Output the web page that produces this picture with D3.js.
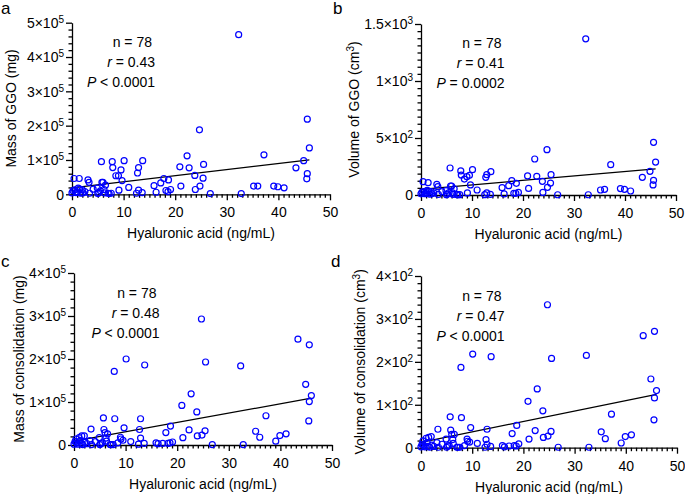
<!DOCTYPE html>
<html><head><meta charset="utf-8">
<script src="https://cdn.jsdelivr.net/npm/d3@7"></script>
<style>
html,body{margin:0;padding:0;background:#fff;}
svg{display:block;}
text{font-family:"Liberation Sans",Arial,Helvetica,sans-serif;fill:#000;}
</style></head><body>
<svg id="chart" width="685" height="494"></svg>
<script>
// ---------------- DATA ----------------
const hyaluronicAcid = [0.0,0.2,0.4,0.5,0.8,1.0,1.2,1.4,1.5,1.7,2.0,2.1,2.5,3.1,3.3,3.4,4.1,4.9,5.0,5.2,5.5,5.7,5.8,6.0,6.2,6.3,6.5,7.0,7.2,7.6,7.8,7.9,8.5,9.0,9.1,9.5,9.7,10.1,11.0,12.5,12.7,12.9,12.9,13.6,13.7,15.9,16.3,17.2,17.8,18.2,18.6,18.7,19.1,20.9,21.1,22.3,22.7,23.8,23.9,24.7,24.8,25.4,25.5,26.8,32.3,32.8,35.2,36.0,37.2,39.1,39.9,41.1,43.4,44.9,45.5,45.6,45.6,46.0];
const massGGO = [4000,10000,46000,13000,5000,7000,18000,46000,15000,3000,13000,4000,8000,42000,35000,3000,15000,18000,2000,5000,10000,95000,35000,35000,14000,4000,27000,3000,2000,3000,95000,78000,54000,54000,12000,71000,40000,98000,20000,3000,62000,78000,12000,5000,98000,25000,6000,33000,46000,11000,8000,42000,14000,80000,24000,112000,77000,55000,14000,188000,24000,47000,87000,2000,465000,2000,24000,24000,115000,24000,22000,19000,77000,98000,45000,60000,219000,135000];
const volumeGGO = [10,25,117,30,12,20,40,108,35,8,30,10,18,94,73,5,30,38,3,10,22,237,79,79,18,5,55,4,3,3,211,175,140,161,18,173,88,222,44,3,155,178,18,5,205,64,9,82,126,15,15,102,23,167,58,316,164,120,23,398,67,105,178,2,1370,2,44,50,266,56,50,35,155,208,88,129,462,289];
const massConsolidation = [2000,8000,14000,5000,2000,17000,10000,3000,21000,1000,21000,6000,3000,10000,37000,1000,8000,17000,1000,3000,5000,63000,36000,29000,16000,9000,26000,1000,1000,1000,171000,61000,5000,18000,14000,11000,40000,200000,8000,2000,36000,61000,16000,4000,186000,5000,3000,4000,29000,4000,5000,44000,7000,92000,17000,35000,119000,77000,21000,293000,23000,33000,193000,1000,184000,1000,32000,18000,68000,9000,22000,26000,246000,141000,56000,101000,233000,115000];
const volumeConsolidation = [2,8,16,5,2,22,12,3,24,1,26,6,3,12,43,1,8,20,1,4,5,72,41,31,19,10,31,1,1,1,187,70,5,20,15,13,47,218,10,1,19,43,8,3,212,5,2,4,33,5,4,52,9,108,20,40,137,86,24,333,27,38,208,1,215,1,37,21,78,11,26,30,261,160,65,116,271,133];

const xTicks = [0,10,20,30,40,50];
const yTicksA = [0,100000,200000,300000,400000,500000];
const yTicksB = [0,500,1000,1500];
const yTicksC = [0,100000,200000,300000,400000];
const yTicksD = [0,100,200,300,400];

const panelLetters = ["a","b","c","d"];
const yTitles = ["Mass of GGO (mg)","Volume of GGO (cm|3|)","Mass of consolidation (mg)","Volume of consolidation (cm|3|)"];
const xTitle = "Hyaluronic acid (ng/mL)";
const nValues = [78,78,78,78];
const rValues = ["0.43","0.41","0.48","0.47"];
const pTexts = ["< 0.0001","= 0.0002","< 0.0001","< 0.0001"];
const fitIntercepts = [18600, 50, 9000, 12.5];
const fitSlopes = [1780, 3.9, 2170, 2.43];

// ---------------- LAYOUT ----------------
const layout = [
  {left:72, right:330, top:22.7, bottom:194.3, letterX:1, letterY:14, titleX:16, annRight:155, annY:47, yMinor:20000},
  {left:421, right:676, top:24, bottom:195, letterX:333, letterY:14, titleX:359, annRight:504.5, annY:48, yMinor:62.5},
  {left:74, right:332, top:273, bottom:445, letterX:1, letterY:267, titleX:24, annRight:159.5, annY:298, yMinor:20000},
  {left:421, right:677, top:276, bottom:447.7, letterX:331, letterY:267, titleX:365, annRight:504.5, annY:301, yMinor:100/6}
];
const seriesList = [massGGO, volumeGGO, massConsolidation, volumeConsolidation];
const yTickList = [yTicksA, yTicksB, yTicksC, yTicksD];

const svg = d3.select("#chart");
const BLUE = "#0000ff";
const AX_W = 1.3;

function addRich(textSel, str, supDy) {
  const parts = str.split("|");
  parts.forEach((t, k) => {
    if (!t) return;
    if (k % 2 === 1) {
      textSel.append("tspan").attr("dy", -supDy).attr("font-size", 10).text(t);
    } else {
      const ts = textSel.append("tspan").text(t);
      if (k > 0) ts.attr("dy", supDy);
    }
  });
}

function fmtTick(v) {
  if (v === 0) return "0";
  const e = Math.floor(Math.log10(v) + 1e-9);
  const m = +(v / Math.pow(10, e)).toFixed(2);
  return m + "\u00d710|" + e + "|";
}

layout.forEach((L, i) => {
  const vals = seriesList[i];
  const yTicks = yTickList[i];
  const g = svg.append("g");
  const x = d3.scaleLinear().domain([xTicks[0], xTicks[xTicks.length - 1]]).range([L.left, L.right]);
  const y = d3.scaleLinear().domain([yTicks[0], yTicks[yTicks.length - 1]]).range([L.bottom, L.top]);

  const xMinor = d3.range(xTicks[0], xTicks[xTicks.length - 1] + 1e-6, 1).filter(v => !xTicks.includes(Math.round(v)) || Math.abs(v - Math.round(v)) > 1e-6);
  const yMax = yTicks[yTicks.length - 1];
  const yMinor = d3.range(0, yMax + 1e-6, L.yMinor).filter(v => !yTicks.some(t => Math.abs(t - v) < 1e-6));

  const gxm = g.append("g").attr("transform", `translate(0,${L.bottom})`)
    .call(d3.axisBottom(x).tickValues(xMinor).tickSize(3.5).tickSizeOuter(0).tickFormat(""));
  gxm.select(".domain").remove();
  const gym = g.append("g").attr("transform", `translate(${L.left},0)`)
    .call(d3.axisLeft(y).tickValues(yMinor).tickSize(3.5).tickSizeOuter(0).tickFormat(""));
  gym.select(".domain").remove();

  const gx = g.append("g").attr("transform", `translate(0,${L.bottom})`)
    .call(d3.axisBottom(x).tickValues(xTicks).tickSize(6).tickSizeOuter(0).tickPadding(7).tickFormat(d3.format("d")));
  gx.selectAll("text").attr("font-size", 14).attr("font-family", null);
  const gy = g.append("g").attr("transform", `translate(${L.left},0)`)
    .call(d3.axisLeft(y).tickValues(yTicks).tickSize(6).tickSizeOuter(0).tickFormat(""));
  gy.selectAll(".tick").each(function(d) {
    const t = d3.select(this).append("text")
      .attr("x", -8).attr("dy", "0.35em").attr("text-anchor", "end")
      .attr("font-size", 14).attr("fill", "#000");
    addRich(t, fmtTick(d), 5);
  });
  [gxm, gym, gx, gy].forEach(s => {
    s.attr("font-family", null).attr("font-size", null);
    s.selectAll("line").attr("stroke", "#000").attr("stroke-width", AX_W);
    s.selectAll(".domain").attr("stroke", "#000").attr("stroke-width", AX_W);
  });

  const xr = d3.extent(hyaluronicAcid);
  const fit = v => fitIntercepts[i] + fitSlopes[i] * v;
  g.append("line")
    .attr("x1", x(xr[0])).attr("y1", y(fit(xr[0])))
    .attr("x2", x(xr[1])).attr("y2", y(fit(xr[1])))
    .attr("stroke", "#000").attr("stroke-width", 1.2);

  g.append("g").selectAll("circle").data(hyaluronicAcid.map((h, k) => [h, vals[k]]))
    .join("circle")
    .attr("cx", d => x(d[0])).attr("cy", d => y(d[1])).attr("r", 3)
    .attr("fill", "none").attr("stroke", BLUE).attr("stroke-width", 1.2);

  g.append("text").attr("x", L.letterX).attr("y", L.letterY).attr("font-size", 17).text(panelLetters[i]);

  const yt = g.append("text")
    .attr("transform", `translate(${L.titleX},${(L.top + L.bottom) / 2}) rotate(-90)`)
    .attr("text-anchor", "middle").attr("font-size", 14);
  addRich(yt, yTitles[i], 5);

  g.append("text").attr("x", (L.left + L.right) / 2).attr("y", L.bottom + 44)
    .attr("text-anchor", "middle").attr("font-size", 14).text(xTitle);

  const ann = g.append("g").attr("font-size", 14).attr("text-anchor", "end");
  ann.append("text").attr("x", L.annRight - 3).attr("y", L.annY).text("n = " + nValues[i]);
  const rt = ann.append("text").attr("x", L.annRight).attr("y", L.annY + 19.5);
  rt.append("tspan").attr("font-style", "italic").text("r");
  rt.append("tspan").text(" = " + rValues[i]);
  const pt = ann.append("text").attr("x", L.annRight).attr("y", L.annY + 40);
  pt.append("tspan").attr("font-style", "italic").text("P");
  pt.append("tspan").text(" " + pTexts[i]);
});
</script>
</body></html>
